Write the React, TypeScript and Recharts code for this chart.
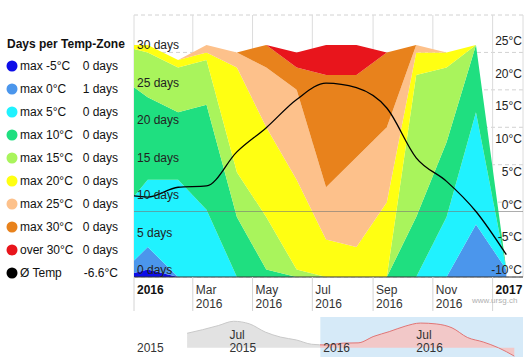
import React from 'react';
import {
  ComposedChart,
  Area,
  Line,
  XAxis,
  YAxis,
  CartesianGrid,
  ReferenceLine,
  ReferenceArea,
} from 'recharts';

// monthly points (plotted at the 15th), Dec 2015 sits left of the visible range
const months = [
  '2015-12', '2016-01', '2016-02', '2016-03', '2016-04', '2016-05', '2016-06',
  '2016-07', '2016-08', '2016-09', '2016-10', '2016-11', '2016-12', '2017-01',
];

// days per temperature zone
const maxMinus5 = [0, 1, 0, 0, 0, 0, 0, 0, 0, 0, 0, 0, 0, 0];
const max0 = [0, 3, 0, 0, 0, 0, 0, 0, 0, 0, 0, 0, 7, 1];
const max5 = [8, 9, 13, 9, 0, 0, 0, 0, 0, 0, 0, 8, 15, 0];
const max10 = [19, 11, 9, 14, 8, 1, 0, 0, 0, 0, 8, 10, 9, 0];
const max15 = [4, 6, 6, 6, 6, 7, 1, 0, 0, 0, 19, 10, 0, 0];
const max20 = [0, 1, 1, 1, 14, 12, 12, 5, 4, 10, 3, 2, 0, 0];
const max25 = [0, 0, 0, 1, 2, 8, 12, 7, 12, 10, 1, 0, 0, 0];
const max30 = [0, 0, 0, 0, 0, 3, 3, 15, 11, 10, 0, 0, 0, 0];
const over30 = [0, 0, 0, 0, 0, 0, 2, 4, 4, 0, 0, 0, 0, 0];

// average temperature
const avgTemp = [2.8, 2.2, 3.7, 3.9, 9.1, 12.8, 17.1, 19.6, 18.9, 15.8, 8.2, 4.6, 0.0, -6.6];

// navigator: earlier months of the temperature series
const navMonths2015 = ['2015-04', '2015-05', '2015-06', '2015-07', '2015-08', '2015-09', '2015-10', '2015-11'];
const navTemp2015 = [11.5, 14.3, 17.6, 21.0, 19.0, 12.5, 8.5, 6.2];

const dayTicks = [0, 5, 10, 15, 20, 25, 30, 35];
const tempTicks = [-10, -5, 0, 5, 10, 15, 20, 25, 30];
const monthNames = ['Jan', 'Feb', 'Mar', 'Apr', 'May', 'Jun', 'Jul', 'Aug', 'Sep', 'Oct', 'Nov', 'Dec'];

const FONT = '"Liberation Sans", Arial, sans-serif';
const PLOT_LEFT = 134;
const PLOT_RIGHT = 523;
const PLOT_BOTTOM = 277;

const mid = (m: string) => {
  const [y, mo] = m.split('-').map(Number);
  return Date.UTC(y, mo - 1, 15);
};

const zones = [
  { key: 'maxMinus5', name: 'max -5°C', color: '#0d0de8', values: maxMinus5 },
  { key: 'max0', name: 'max 0°C', color: '#4b96ec', values: max0 },
  { key: 'max5', name: 'max 5°C', color: '#20f2ff', values: max5 },
  { key: 'max10', name: 'max 10°C', color: '#1fdf80', values: max10 },
  { key: 'max15', name: 'max 15°C', color: '#a9f45c', values: max15 },
  { key: 'max20', name: 'max 20°C', color: '#ffff12', values: max20 },
  { key: 'max25', name: 'max 25°C', color: '#fdc18b', values: max25 },
  { key: 'max30', name: 'max 30°C', color: '#e8821c', values: max30 },
  { key: 'over30', name: 'over 30°C', color: '#e8151c', values: over30 },
];

const data = months.map((m, i) => {
  const row: any = { t: mid(m), temp: avgTemp[i] };
  zones.forEach((z) => (row[z.key] = z.values[i]));
  return row;
});

const navData = [
  ...navMonths2015.map((m, i) => ({ t: mid(m), temp: navTemp2015[i] })),
  ...months.map((m, i) => ({ t: mid(m), temp: avgTemp[i] })),
];

const xMin = Date.UTC(2016, 0, 1);
const xMax = Date.UTC(2017, 1, 1);
const xTicks = [
  Date.UTC(2016, 0, 1), Date.UTC(2016, 2, 1), Date.UTC(2016, 4, 1), Date.UTC(2016, 6, 1),
  Date.UTC(2016, 8, 1), Date.UTC(2016, 10, 1), Date.UTC(2017, 0, 1),
];
const navMin = Date.UTC(2015, 0, 1);
const navTicks = [Date.UTC(2015, 0, 1), Date.UTC(2015, 6, 1), Date.UTC(2016, 0, 1), Date.UTC(2016, 6, 1)];

const MonthTick = (props: any) => {
  const { x, payload } = props;
  const d = new Date(payload.value);
  const year = d.getUTCFullYear();
  const isJan = d.getUTCMonth() === 0;
  return (
    <g fontFamily={FONT} fontSize={12}>
      <line x1={x} x2={x} y1={PLOT_BOTTOM} y2={PLOT_BOTTOM + 34} stroke="#d4d4d4" />
      {isJan ? (
        <text x={x + 3} y={294} fill="#111" fontWeight="bold">{year}</text>
      ) : (
        <>
          <text x={x + 3} y={294} fill="#333">{monthNames[d.getUTCMonth()]}</text>
          <text x={x + 3} y={308} fill="#333">{year}</text>
        </>
      )}
    </g>
  );
};

const DayTick = (props: any) => {
  const { y, payload } = props;
  if (payload.value === 35) return <g />;
  return (
    <text x={PLOT_LEFT + 3} y={y - 3} fontFamily={FONT} fontSize={12} fill="#222">
      {payload.value} days
    </text>
  );
};

const TempTick = (props: any) => {
  const { y, payload } = props;
  if (payload.value === 30) return <g />;
  return (
    <text x={PLOT_RIGHT - 1} y={y - 3} textAnchor="end" fontFamily={FONT} fontSize={12} fill="#222">
      {payload.value}°C
    </text>
  );
};

const NavTick = (props: any) => {
  const { x, payload } = props;
  const d = new Date(payload.value);
  const isJan = d.getUTCMonth() === 0;
  return (
    <g fontFamily={FONT} fontSize={12} fill="#333">
      {!isJan && <text x={x + 3} y={27}>{monthNames[d.getUTCMonth()]}</text>}
      <text x={x + 3} y={40}>{d.getUTCFullYear()}</text>
    </g>
  );
};

const Legend = () => {
  const last = data[data.length - 1];
  const rows = [
    ...zones.map((z) => ({ name: z.name, color: z.color, value: `${last[z.key]} days` })),
    { name: 'Ø Temp', color: '#000', value: `${last.temp.toFixed(1)}°C` },
  ];
  return (
    <svg width={130} height={290} style={{ position: 'absolute', left: 0, top: 0 }}>
      <text x={7} y={48} fontFamily={FONT} fontSize={12} fontWeight="bold" fill="#111">
        Days per Temp-Zone
      </text>
      {rows.map((r, i) => (
        <g key={r.name} fontFamily={FONT} fontSize={12} fill="#111">
          <circle cx={12} cy={66 + i * 23} r={5.5} fill={r.color} />
          <text x={20} y={70 + i * 23}>{r.name}</text>
          <text x={118} y={70 + i * 23} textAnchor="end">{r.value}</text>
        </g>
      ))}
    </svg>
  );
};

export default function App() {
  const navSplit = (Date.UTC(2016, 0, 1) - navData[0].t) / (navData[navData.length - 1].t - navData[0].t);
  return (
    <div style={{ position: 'absolute', left: 0, top: 0, width: 531, height: 363, background: '#fff' }}>
      <Legend />
      <div style={{ position: 'absolute', left: 0, top: 0 }}>
        <ComposedChart width={531} height={315} data={data} margin={{ top: 15, right: 7, bottom: 0, left: PLOT_LEFT - 1 }}>
          <CartesianGrid yAxisId="d" vertical={false} stroke="#d2d2d2" strokeDasharray="4 3" />
          <CartesianGrid yAxisId="d" horizontal={false} stroke="#dcdcdc" />
          {zones.map((z) => (
            <Area
              key={z.key}
              yAxisId="d"
              dataKey={z.key}
              stackId="zones"
              type="linear"
              stroke="none"
              fill={z.color}
              fillOpacity={1}
              isAnimationActive={false}
            />
          ))}
          <ReferenceLine yAxisId="t" y={0} stroke="#777" strokeOpacity={0.6} />
          <Line
            yAxisId="t"
            dataKey="temp"
            type="monotone"
            stroke="#000"
            strokeWidth={1.3}
            dot={false}
            isAnimationActive={false}
          />
          <XAxis
            dataKey="t"
            type="number"
            domain={[xMin, xMax]}
            allowDataOverflow
            ticks={xTicks}
            interval={0}
            height={38}
            tick={<MonthTick />}
            tickLine={false}
            axisLine={{ stroke: '#333' }}
          />
          <YAxis
            yAxisId="d"
            orientation="left"
            width={1}
            domain={[0, 35]}
            ticks={dayTicks}
            interval={0}
            allowDataOverflow
            tick={<DayTick />}
            tickLine={false}
            axisLine={false}
          />
          <YAxis
            yAxisId="t"
            orientation="right"
            width={1}
            domain={[-10, 30]}
            ticks={tempTicks}
            interval={0}
            allowDataOverflow
            tick={<TempTick />}
            tickLine={false}
            axisLine={false}
          />
        </ComposedChart>
      </div>
      <div style={{ position: 'absolute', left: 0, top: 312 }}>
        <ComposedChart width={531} height={51} data={navData} margin={{ top: 5, right: 8, bottom: 5, left: PLOT_LEFT }}>
          <defs>
            <linearGradient id="navFill" x1="0" y1="0" x2="1" y2="0">
              <stop offset={navSplit} stopColor="#e2e2e2" />
              <stop offset={navSplit} stopColor="#f2c8c8" />
            </linearGradient>
            <linearGradient id="navStroke" x1="0" y1="0" x2="1" y2="0">
              <stop offset={navSplit} stopColor="#c9c9c9" />
              <stop offset={navSplit} stopColor="#e07474" />
            </linearGradient>
          </defs>
          <ReferenceArea x1={Date.UTC(2016, 0, 1)} x2={xMax} fill="#d6eaf8" fillOpacity={1} ifOverflow="extendDomain" />
          <Area
            dataKey="temp"
            type="monotone"
            fill="url(#navFill)"
            fillOpacity={1}
            stroke="url(#navStroke)"
            strokeWidth={1}
            isAnimationActive={false}
          />
          <XAxis
            dataKey="t"
            type="number"
            domain={[navMin, xMax]}
            ticks={navTicks}
            interval={0}
            height={1}
            tick={<NavTick />}
            tickLine={false}
            axisLine={false}
          />
          <YAxis hide domain={[-7.3, 24.4]} allowDataOverflow />
        </ComposedChart>
      </div>
      <div
        style={{
          position: 'absolute',
          left: 472,
          top: 296,
          fontFamily: FONT,
          fontSize: 8,
          color: '#b0b0b0',
        }}
      >
        www.ursg.ch
      </div>
    </div>
  );
}
